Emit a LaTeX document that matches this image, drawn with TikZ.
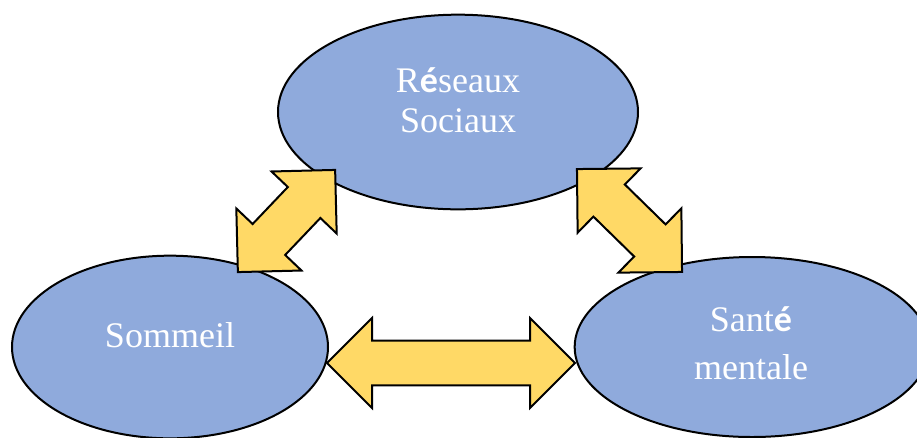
\documentclass[tikz,border=0pt]{standalone}
\usepackage{fontspec}
\setmainfont{Liberation Serif}
\newfontfamily\accfont{Carlito}
\usetikzlibrary{shapes.geometric,shapes.arrows,calc}
\definecolor{bulleblue}{HTML}{8FAADC}
\definecolor{flecheyellow}{HTML}{FFD966}

\begin{document}
\begin{tikzpicture}[x=0.75pt,y=-0.75pt,line width=1.5pt,
  bulle/.style={ellipse,draw=black,fill=bulleblue,inner sep=0pt},
  fleche/.style={double arrow,draw=black,fill=flecheyellow,minimum width=0pt,
    inner xsep=0pt,inner ysep=16.1pt,double arrow head extend=16.9pt,
    double arrow tip angle=90},
  texte/.style={text=white,align=center,font=\fontsize{27}{30}\selectfont}]
  \useasboundingbox (0,0) rectangle (917,437);

  % les trois bulles
  \node[bulle,minimum width=270pt,minimum height=146pt] (reseaux) at (458,112) {};
  \node[bulle,minimum width=237pt,minimum height=137pt] (sommeil) at (170,347) {};
  \node[bulle,minimum width=266pt,minimum height=135pt] (sante) at (752,347) {};

  \node[texte] (t-reseaux) at (458,100) {R{\accfont\bfseries é}seaux\\Sociaux};
  \node[texte] (t-sommeil) at (170,335) {Sommeil};
  \node[texte,font=\fontsize{27}{36}\selectfont] (t-sante) at (751,343) {Sant{\accfont\bfseries é}\\mentale};

  % extremites des fleches
  \coordinate (s1) at (238,272);
  \coordinate (r1) at (335,170);
  \coordinate (r2) at (577,169);
  \coordinate (m2) at (682,272);
  \coordinate (s3) at (327,363);
  \coordinate (m3) at (575,363);

  % fleches doubles
  \node[fleche,minimum height=105.8pt,rotate=46.4] (f1) at ($(s1)!.5!(r1)$) {};
  \node[fleche,minimum height=110.3pt,rotate=-44.4] (f2) at ($(r2)!.5!(m2)$) {};
  \node[fleche,minimum height=186pt] (f3) at ($(s3)!.5!(m3)$) {};
\end{tikzpicture}
\end{document}
